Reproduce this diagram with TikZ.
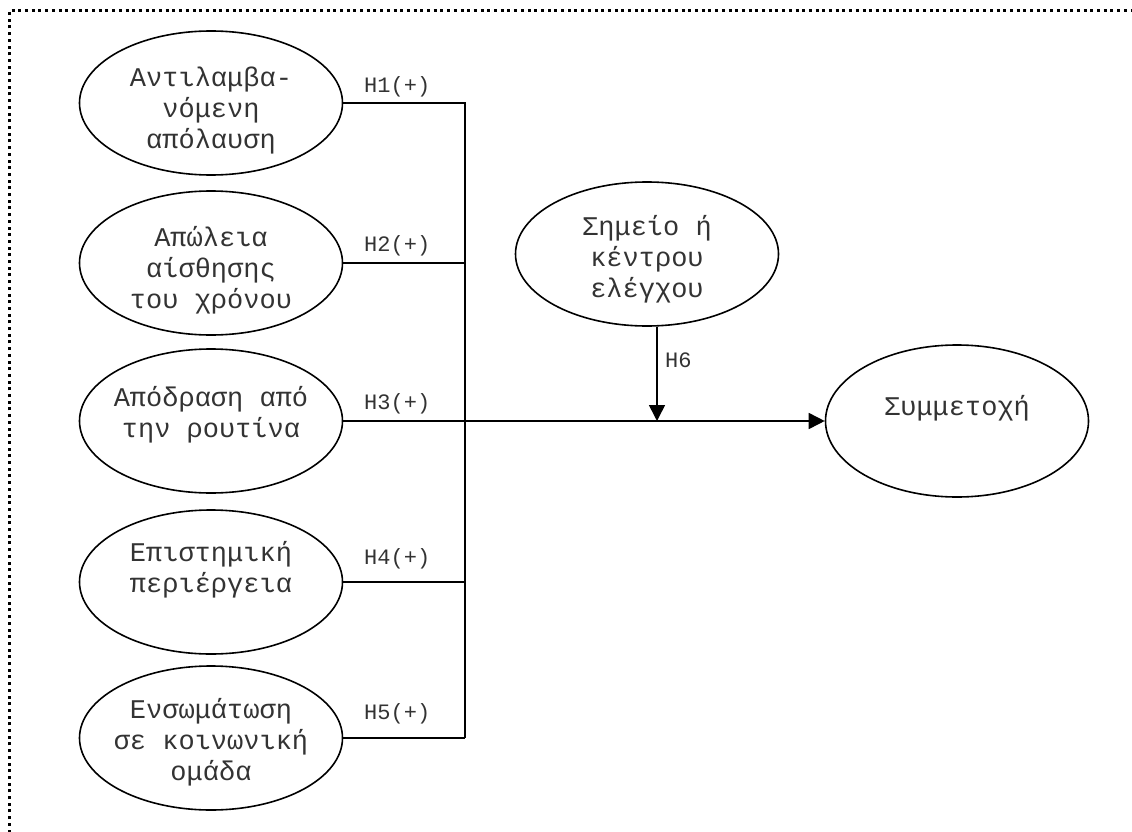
\documentclass[tikz,border=0pt]{standalone}
\usepackage{fontspec}
\newfontfamily\mono{Liberation Mono}
\usetikzlibrary{shapes.geometric,arrows.meta}
\begin{document}
\begin{tikzpicture}[x=1pt,y=-1pt,
  construct/.style={ellipse,draw,line width=1.6pt,minimum width=263pt,minimum height=144pt,inner sep=0pt},
  caption/.style={font=\mono\fontsize{27}{31}\selectfont,align=center,inner sep=0pt,text=black!80},
  hyp/.style={font=\mono\fontsize{22}{24}\selectfont,inner sep=0pt,anchor=west,text=black!80},
  link/.style={line width=1.6pt},
  arr/.style={link,-{Triangle[length=16pt,width=16pt]}}]
\useasboundingbox (0,0) rectangle (1132,832);
% dotted frame
\draw[line width=3pt,dash pattern=on 3pt off 3.7pt] (9,1000) -- (9,11) -- (1300,11);

% constructs
\node[construct] (e1) at (211,103) {};
\node[construct] (e2) at (211,263) {};
\node[construct] (e3) at (211,421) {};
\node[construct] (e4) at (211,582) {};
\node[construct] (e5) at (211,738) {};
\node[construct] (e6) at (647,254) {};
\node[construct,minimum height=152pt] (e7) at (957,421) {};

\node[caption] (t1) at (211,111) {Αντιλαμβα-\\νόμενη\\απόλαυση};
\node[caption] (t2) at (211,270) {Απώλεια\\αίσθησης\\του χρόνου};
\node[caption] (t3) at (211,415) {Απόδραση από\\την ρουτίνα};
\node[caption] (t4) at (211,570) {Επιστημική\\περιέργεια};
\node[caption] (t5) at (211,742) {Ενσωμάτωση\\σε κοινωνική\\ομάδα};
\node[caption] (t6) at (647,259) {Σημείο ή\\κέντρου\\ελέγχου};
\node[caption] (t7) at (957,408) {Συμμετοχή};

% bus and moderator point
\coordinate (bus) at (465,421);
\coordinate (mod) at (657,421);

\draw[link] (e1.east) -- (e1.east -| bus) -- (e5.east -| bus);
\draw[link] (e2.east) -- (e2.east -| bus);
\draw[link] (e4.east) -- (e4.east -| bus);
\draw[link] (e5.east) -- (e5.east -| bus);
\draw[arr] (e3.east) -- (e7.west);
\draw[arr] (e6.south -| mod) -- (mod);

% hypothesis labels
\node[hyp] (h1) at (364,87) {H1(+)};
\node[hyp] (h2) at (364,246) {H2(+)};
\node[hyp] (h3) at (364,404) {H3(+)};
\node[hyp] (h4) at (364,559) {H4(+)};
\node[hyp] (h5) at (364,714) {H5(+)};
\node[hyp] (h6) at (665,360) {H6};
\end{tikzpicture}
\end{document}
